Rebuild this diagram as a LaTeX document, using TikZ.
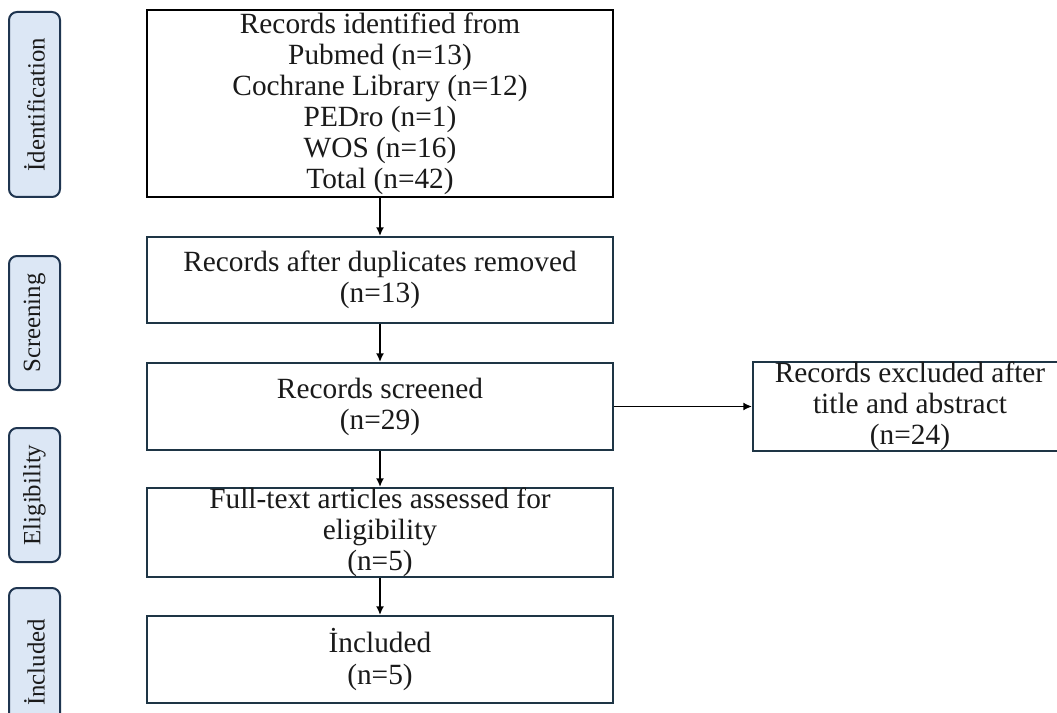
\documentclass[tikz,border=0pt]{standalone}
\usepackage{fontspec}
\setmainfont{Liberation Serif}
\usetikzlibrary{arrows.meta}

\definecolor{boxline}{HTML}{1E3545}
\definecolor{tabfill}{HTML}{DCE7F5}
\definecolor{tabline}{HTML}{1F3550}
\definecolor{inkgray}{HTML}{1A1A1A}

\begin{document}
\begin{tikzpicture}[x=0.75pt, y=-0.75pt,
  flowbox/.style={draw=boxline, line width=1.5pt, fill=white, inner sep=0pt,
    align=center, text=inkgray,
    font=\fontsize{22}{23.3}\selectfont},
  phasetab/.style={draw=tabline, line width=1.5pt, fill=tabfill, rounded corners=6pt,
    inner sep=0pt, rotate=90, text=inkgray, minimum height=51*0.75pt,
    font=\fontsize{18.6}{20}\selectfont},
  flowarrow/.style={draw=black, line width=1.3pt,
    -{Latex[length=6.5pt, width=6pt]}}
]
\useasboundingbox (0,0) rectangle (1057,713);

% phase tabs on the left
\node[phasetab, minimum width=185*0.75pt] (tIdent) at (34.5,104.5) {İdentification};
\node[phasetab, minimum width=134*0.75pt] (tScreen) at (34.5,323) {Screening};
\node[phasetab, minimum width=134*0.75pt] (tElig) at (34.5,495) {Eligibility};
\node[phasetab, minimum width=149*0.75pt] (tIncl) at (34.5,662.5) {İncluded};

% main flow boxes
\node[flowbox, draw=black, minimum width=466*0.75pt, minimum height=187*0.75pt] (ident) at (380,103.5)
  {Records identified from\\ Pubmed (n=13)\\ Cochrane Library (n=12)\\ PEDro (n=1)\\ WOS (n=16)\\ Total (n=42)};
\node[flowbox, minimum width=466*0.75pt, minimum height=86*0.75pt] (dup) at (380,280)
  {Records after duplicates removed\\ (n=13)};
\node[flowbox, minimum width=466*0.75pt, minimum height=87*0.75pt] (screen) at (380,406.5)
  {Records screened\\ (n=29)};
\node[flowbox, minimum width=466*0.75pt, minimum height=87*0.75pt] (full) at (380,532.5)
  {Full-text articles assessed for\\ eligibility\\ (n=5)};
\node[flowbox, minimum width=466*0.75pt, minimum height=87*0.75pt] (incl) at (380,659.5)
  {İncluded\\ (n=5)};

% exclusion box on the right
\node[flowbox, minimum width=314*0.75pt, minimum height=87*0.75pt] (excl) at (910,406.5)
  {Records excluded after\\ title and abstract\\ (n=24)};

% connectors
\draw[flowarrow] (ident.south) -- (dup.north);
\draw[flowarrow] (dup.south) -- (screen.north);
\draw[flowarrow] (screen.south) -- (full.north);
\draw[flowarrow] (full.south) -- (incl.north);
\draw[flowarrow] (screen.east) -- (excl.west);
\end{tikzpicture}
\end{document}
